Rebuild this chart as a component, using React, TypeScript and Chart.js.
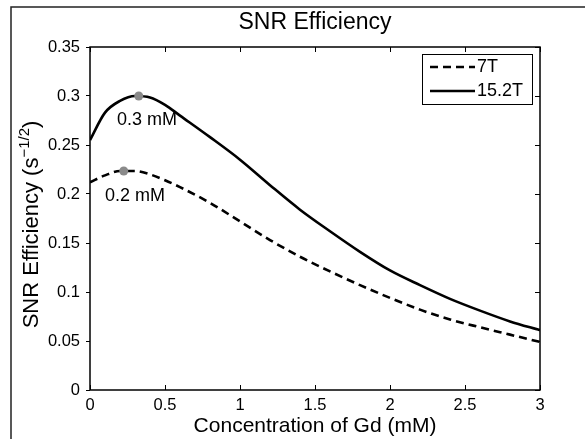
import React, { useEffect, useRef } from "react";
import { Chart, registerables } from "chart.js";

Chart.register(...registerables);

// ---- Data ----
const concentration = [0, 0.1, 0.2, 0.3, 0.4, 0.5, 0.6, 0.8, 1.0, 1.2, 1.4, 1.6, 1.8, 2.0, 2.2, 2.4, 2.6, 2.8, 3.0];
const snr7T = [0.212, 0.219, 0.2235, 0.2235, 0.22, 0.214, 0.207, 0.191, 0.172, 0.153, 0.136, 0.121, 0.107, 0.094, 0.082, 0.072, 0.064, 0.0565, 0.049];
const snr152T = [0.255, 0.283, 0.295, 0.3, 0.2985, 0.291, 0.28, 0.258, 0.235, 0.209, 0.184, 0.162, 0.141, 0.122, 0.107, 0.093, 0.081, 0.07, 0.061];
const seriesNames = ["7T", "15.2T"];

const peakX = [0.225, 0.325];
const peakY = [0.2235, 0.3];
const peakLabels = ["0.2 mM", "0.3 mM"];
const peakLabelX = [0.3, 0.38];
const peakLabelY = [0.198, 0.2755];

const xTicks = [0, 0.5, 1, 1.5, 2, 2.5, 3];
const yTicks = [0, 0.05, 0.1, 0.15, 0.2, 0.25, 0.3, 0.35];

const titleText = "SNR Efficiency";
const xTitleText = "Concentration of Gd (mM)";
const yTitleMain = "SNR Efficiency (s";
const yTitleSup = "\u22121/2";
const yTitleEnd = ")";

const FONT = '"Liberation Sans", Arial, Helvetica, sans-serif';

const fmt = (v: number) => String(Number(v.toFixed(2)));

const decor = {
  id: "decor",
  beforeDraw(chart: any) {
    const ctx = chart.ctx;
    ctx.save();
    ctx.strokeStyle = "#222";
    ctx.lineWidth = 1.5;
    ctx.beginPath();
    ctx.moveTo(11, 439);
    ctx.lineTo(11, 7);
    ctx.lineTo(585, 7);
    ctx.stroke();
    ctx.restore();
  },
  afterDraw(chart: any) {
    const ctx = chart.ctx;
    const a = chart.chartArea;
    const x = chart.scales.x;
    const y = chart.scales.y;
    ctx.save();
    // axes box
    ctx.strokeStyle = "#000";
    ctx.lineWidth = 1.5;
    ctx.strokeRect(a.left, a.top, a.right - a.left, a.bottom - a.top);
    // inward ticks
    ctx.lineWidth = 1;
    ctx.beginPath();
    xTicks.forEach((v) => {
      const px = Math.round(x.getPixelForValue(v)) + 0.5;
      ctx.moveTo(px, a.bottom);
      ctx.lineTo(px, a.bottom - 5);
      ctx.moveTo(px, a.top);
      ctx.lineTo(px, a.top + 5);
    });
    yTicks.forEach((v) => {
      const py = Math.round(y.getPixelForValue(v)) + 0.5;
      ctx.moveTo(a.right, py);
      ctx.lineTo(a.right - 5, py);
    });
    ctx.stroke();

    // title
    ctx.fillStyle = "#000";
    ctx.font = `23px ${FONT}`;
    ctx.textAlign = "center";
    ctx.textBaseline = "middle";
    ctx.fillText(titleText, (a.left + a.right) / 2, 23);

    // y title with superscript
    ctx.save();
    ctx.font = `22px ${FONT}`;
    const wMain = ctx.measureText(yTitleMain).width;
    const wEnd = ctx.measureText(yTitleEnd).width;
    ctx.font = `15px ${FONT}`;
    const wSup = ctx.measureText(yTitleSup).width;
    const total = wMain + wSup + wEnd;
    ctx.translate(38, (a.top + a.bottom) / 2 + 6);
    ctx.rotate(-Math.PI / 2);
    ctx.textAlign = "left";
    ctx.textBaseline = "alphabetic";
    let sx = -total / 2;
    ctx.font = `22px ${FONT}`;
    ctx.fillText(yTitleMain, sx, 0);
    sx += wMain;
    ctx.font = `15px ${FONT}`;
    ctx.fillText(yTitleSup, sx, -9);
    sx += wSup;
    ctx.font = `22px ${FONT}`;
    ctx.fillText(yTitleEnd, sx, 0);
    ctx.restore();

    // peak labels
    ctx.font = `18px ${FONT}`;
    ctx.textAlign = "center";
    ctx.textBaseline = "middle";
    peakLabels.forEach((t, i) => {
      ctx.fillText(t, x.getPixelForValue(peakLabelX[i]), y.getPixelForValue(peakLabelY[i]));
    });

    // legend
    const lx = a.right - 118;
    const ly = a.top + 7;
    const lw = 110;
    const lh = 50;
    ctx.fillStyle = "#fff";
    ctx.fillRect(lx, ly, lw, lh);
    ctx.strokeStyle = "#000";
    ctx.lineWidth = 1;
    ctx.strokeRect(lx + 0.5, ly + 0.5, lw, lh);
    const dsets = [chart.data.datasets[1], chart.data.datasets[2]];
    const rows = [ly + 13, ly + 37];
    dsets.forEach((ds: any, i: number) => {
      ctx.beginPath();
      ctx.lineWidth = ds.borderWidth;
      ctx.setLineDash(ds.borderDash || []);
      ctx.moveTo(lx + 8, rows[i]);
      ctx.lineTo(lx + 53, rows[i]);
      ctx.stroke();
      ctx.setLineDash([]);
      ctx.fillStyle = "#000";
      ctx.font = `18px ${FONT}`;
      ctx.textAlign = "left";
      ctx.textBaseline = "middle";
      ctx.fillText(seriesNames[i], lx + 55, rows[i]);
    });
    ctx.restore();
  },
};

export default function App() {
  const ref = useRef<HTMLCanvasElement | null>(null);
  useEffect(() => {
    if (!ref.current) return;
    Chart.defaults.font.family = FONT;
    Chart.defaults.color = "#000";
    const chart = new Chart(ref.current, {
      type: "line",
      data: {
        datasets: [
          {
            label: "peaks",
            data: peakX.map((v, i) => ({ x: v, y: peakY[i] })),
            showLine: false,
            pointRadius: 4.5,
            pointBackgroundColor: "#8a8a8a",
            pointBorderWidth: 0,
            order: 0,
          },
          {
            label: seriesNames[0],
            data: concentration.map((c, i) => ({ x: c, y: snr7T[i] })),
            borderColor: "#000",
            borderWidth: 2.6,
            borderDash: [8, 5],
            pointRadius: 0,
            cubicInterpolationMode: "monotone",
            fill: false,
            order: 2,
          },
          {
            label: seriesNames[1],
            data: concentration.map((c, i) => ({ x: c, y: snr152T[i] })),
            borderColor: "#000",
            borderWidth: 2.6,
            pointRadius: 0,
            cubicInterpolationMode: "monotone",
            fill: false,
            order: 1,
          },
        ],
      },
      options: {
        animation: false,
        responsive: false,
        layout: { padding: { top: 47, right: 45, left: 0, bottom: 0 } },
        plugins: { legend: { display: false }, tooltip: { enabled: false }, title: { display: false } },
        scales: {
          x: {
            type: "linear",
            min: 0,
            max: 3,
            afterBuildTicks: (s: any) => {
              s.ticks = xTicks.map((v) => ({ value: v }));
            },
            afterFit: (s: any) => {
              s.height = 49;
            },
            ticks: { callback: (v: any) => fmt(Number(v)), font: { size: 16.5 }, padding: 6, maxRotation: 0 },
            grid: { display: false, drawTicks: false },
            border: { display: false },
            title: { display: true, text: xTitleText, font: { size: 21 }, padding: { top: 0, bottom: 0 } },
          },
          y: {
            type: "linear",
            min: 0,
            max: 0.35,
            afterBuildTicks: (s: any) => {
              s.ticks = yTicks.map((v) => ({ value: v }));
            },
            afterFit: (s: any) => {
              s.width = 90;
            },
            ticks: { callback: (v: any) => fmt(Number(v)), font: { size: 16.5 }, padding: 6 },
            grid: { drawOnChartArea: false, drawTicks: true, tickLength: 4, color: "#000" },
            border: { display: false },
          },
        },
      },
      plugins: [decor],
    } as any);
    return () => chart.destroy();
  }, []);
  return (
    <div style={{ position: "fixed", left: 0, top: 0, width: 585, height: 439, background: "#fff" }}>
      <canvas ref={ref} width={585} height={439} style={{ display: "block" }} />
    </div>
  );
}
